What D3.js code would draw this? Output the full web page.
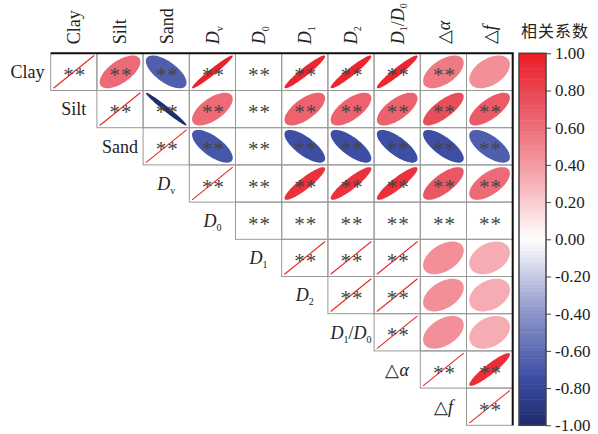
<!DOCTYPE html>
<html>
<head>
<meta charset="utf-8">
<script src="https://cdn.jsdelivr.net/npm/d3@7"></script>
<style>
body{margin:0;background:#fff;}
text{font-family:"Liberation Serif","Times New Roman",serif;fill:#222;}
</style>
</head>
<body>
<svg id="corrChart" width="598" height="434"></svg>
<script>
const vars = ["Clay","Silt","Sand","Dv","D0","D1","D2","D1D0","Da","Df"];

// label pieces: [text, style]  style: "n" normal, "i" italic, "s" subscript
const labels = {
  Clay:[["Clay","n"]],
  Silt:[["Silt","n"]],
  Sand:[["Sand","n"]],
  Dv:[["D","i"],["v","s"]],
  D0:[["D","i"],["0","s"]],
  D1:[["D","i"],["1","s"]],
  D2:[["D","i"],["2","s"]],
  D1D0:[["D","i"],["1","s"],["/","n"],["D","i"],["0","s"]],
  Da:[["\u25B3","n"],["\u03B1","i"]],
  Df:[["\u25B3","n"],["f","i"]]
};

// upper triangle of the correlation matrix, null = no value (D0)
const corrRows = [
  [1, 0.62, -0.66, 0.97, null, 0.95, 0.95, 0.95, 0.55, 0.45],
  [1, -0.98, 0.62, null, 0.66, 0.66, 0.66, 0.76, 0.70],
  [1, -0.70, null, -0.74, -0.74, -0.74, -0.74, -0.66],
  [1, null, 0.90, 0.90, 0.90, 0.72, 0.62],
  [null, null, null, null, null, null],
  [1, 1, 1, 0.45, 0.33],
  [1, 1, 0.45, 0.33],
  [1, 0.45, 0.33],
  [1, 0.92],
  [1]
];

// pairs without significance stars
const noStars = [["Clay","Df"],["D1","Da"],["D1","Df"],["D2","Da"],["D2","Df"],["D1D0","Da"],["D1D0","Df"]];

const colorTicks = [-1,-0.8,-0.6,-0.4,-0.2,0,0.2,0.4,0.6,0.8,1];

const svg = d3.select("#corrChart");
const gLeft = 50.7, gTop = 53.3, gRight = 512.7, gBottom = 425.3;

const x = d3.scaleBand().domain(vars).range([gLeft,gRight]);
const y = d3.scaleBand().domain(vars).range([gTop,gBottom]);
const cw = x.bandwidth(), ch = y.bandwidth();

const color = d3.scaleLinear()
  .domain([-1,-0.75,-0.4,0,0.4,0.75,1])
  .range(["#1e2a6c","#3b4ca3","#8a94c9","#ffffff","#f39aa2","#e9505d","#ec1c24"]);

function addLabel(sel, key){
  let prev = "n";
  labels[key].forEach(p=>{
    const t = sel.append("tspan").text(p[0]);
    if(p[1]==="i") t.style("font-style","italic");
    if(p[1]==="s") t.attr("font-size","10px").attr("dy","4");
    else if(prev==="s") t.attr("dy","-4");
    prev = p[1];
  });
}

const cells = [];
corrRows.forEach((row,i)=>{
  row.forEach((r,k)=>{
    const j = i + k;
    cells.push({row:vars[i], col:vars[j], r:r,
      star: !noStars.some(p=>p[0]===vars[i] && p[1]===vars[j])});
  });
});

// ellipse (corrplot style)
function ellipsePath(r, cx, cy){
  const d = Math.acos(Math.max(-1,Math.min(1,r)));
  const sx = cw*0.44, sy = ch*0.44;
  const pts = d3.range(0, 2*Math.PI, Math.PI/60).map(t=>[
    cx + sx*Math.cos(t + d/2),
    cy - sy*Math.cos(t - d/2)
  ]);
  return d3.line()(pts) + "Z";
}

const g = svg.append("g");

cells.forEach(c=>{
  const cx = x(c.col) + cw/2, cy = y(c.row) + ch/2;
  if(c.r !== null){
    if(c.r >= 0.999){
      g.append("line")
        .attr("x1", cx - cw*0.44).attr("y1", cy + ch*0.44)
        .attr("x2", cx + cw*0.44).attr("y2", cy - ch*0.44)
        .attr("stroke", "#e8251f").attr("stroke-width",1.1);
    } else {
      g.append("path").attr("d", ellipsePath(c.r,cx,cy)).attr("fill", color(c.r));
    }
  }
  if(c.star){
    g.append("text").attr("x",cx+1).attr("y",cy+10)
      .attr("text-anchor","middle").attr("font-size","21px")
      .attr("letter-spacing","1px")
      .style("fill","#444").text("**");
  }
});

// cell borders
g.selectAll("rect.cell").data(cells).join("rect")
  .attr("class","cell")
  .attr("x",d=>x(d.col)).attr("y",d=>y(d.row))
  .attr("width",cw).attr("height",ch)
  .attr("fill","none").attr("stroke","#999").attr("stroke-width",1);

g.append("line").attr("x1",gLeft).attr("x2",gRight+1).attr("y1",gTop).attr("y2",gTop)
  .attr("stroke","#111").attr("stroke-width",2);
g.append("line").attr("x1",gRight).attr("x2",gRight).attr("y1",gTop).attr("y2",gBottom)
  .attr("stroke","#111").attr("stroke-width",2);

// column headers
vars.forEach(v=>{
  const t = svg.append("text")
    .attr("transform",`translate(${x(v)+cw/2},${gTop-9}) rotate(-90)`)
    .attr("dy","0.35em").attr("font-size","18px");
  addLabel(t, v);
});

// row labels, centred in the cell left of the diagonal
vars.forEach((v,i)=>{
  const t = svg.append("text")
    .attr("x", gLeft + cw*(i-0.5)).attr("y", y(v)+ch/2)
    .attr("dy","0.35em").attr("text-anchor","middle").attr("font-size","18px");
  addLabel(t, v);
});

// colour bar
const cbX = 519, cbW = 27;
const cbY = d3.scaleLinear().domain([-1,1]).range([gBottom,gTop]);
const nBands = 100;
const bands = d3.range(nBands).map(k=>-1 + (k+0.5)*2/nBands);
svg.append("g").selectAll("rect").data(bands).join("rect")
  .attr("x",cbX).attr("width",cbW)
  .attr("y",d=>cbY(d+1/nBands)).attr("height",(gBottom-gTop)/nBands+0.5)
  .attr("fill",d=>color(d));
svg.append("rect").attr("x",cbX).attr("y",gTop).attr("width",cbW).attr("height",gBottom-gTop)
  .attr("fill","none").attr("stroke","#444").attr("stroke-width",1.5);

const cbAxis = svg.append("g").attr("transform",`translate(${cbX+cbW},0)`)
  .call(d3.axisRight(cbY).tickValues(colorTicks).tickSize(5)
    .tickFormat(d=>d3.format(".2f")(d).replace("\u2212","-")));
cbAxis.select(".domain").remove();
cbAxis.selectAll("line").attr("stroke","#444");
cbAxis.selectAll("text").attr("font-family","Liberation Serif").attr("font-size","17px")
  .attr("fill","#222").attr("x",9);

svg.append("text").attr("x",555).attr("y",37).attr("text-anchor","middle")
  .style("font-family","'Noto Sans CJK SC'").attr("font-size","16px")
  .attr("letter-spacing","1px").text("相关系数");
</script>
</body>
</html>
